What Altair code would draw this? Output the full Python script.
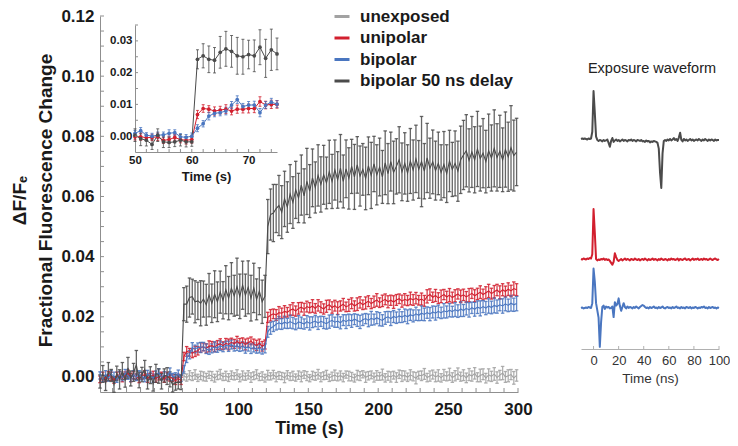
import altair as alt
import pandas as pd

FONT = "Liberation Sans"
INK = "#1a1a1a"
AXIS_GRAY = "#8f8f8f"

SERIES = ["unexposed", "unipolar", "bipolar", "bipolar 50 ns delay"]
COLORS = ["#a2a2a2", "#d21f2e", "#4a76c0", "#4b4b4b"]

# ---------------- main panel (values and errors in units of 1e-4) ----------------
TIME_MAIN = list(range(1, 300, 2))
TIME_UNEXPOSED = list(range(61, 300, 2))

UNEXPOSED = [
    4, -2, 6, 1, 8, -3, 5, 2, -1, 7,
    3, -4, 5, 9, 0, 4, -2, 6, 2, 8,
    -3, 5, 1, 7, -2, 4, 9, 0, 3, -4,
    6, 2, 8, -1, 5, 3, -3, 7, 1, 4,
    -2, 6, 0, 8, 3, -4, 5, 2, 9, -1,
    4, 7, -3, 2, 6, 0, 5, -2, 8, 3,
    1, -4, 6, 3, 9, -1, 4, 7, -2, 5,
    2, 8, -3, 4, 0, 6, -2, 9, 3, 5,
    -1, 7, 2, -4, 6, 4, 10, -2, 3, 8,
    0, 5, -3, 7, 2, 9, -2, 4, 11, 1,
    6, -3, 8, 3, 12, -1, 5, 9, -4, 7,
    2, 10, -2, 6, 13, 0, 4, 8, -3, 5,
]
UNEXPOSED_ERR = [
    14, 12, 15, 13, 16, 12, 14, 15, 13, 12,
    15, 13, 14, 16, 12, 15, 13, 14, 12, 16,
    13, 15, 12, 14, 16, 13, 15, 12, 14, 13,
    16, 12, 14, 15, 13, 12, 16, 14, 13, 15,
    12, 14, 16, 13, 15, 12, 14, 13, 16, 15,
    13, 15, 12, 14, 17, 13, 15, 14, 12, 16,
    14, 13, 16, 15, 12, 17, 14, 13, 15, 16,
    13, 18, 14, 15, 17, 13, 16, 14, 18, 15,
    14, 17, 15, 19, 13, 16, 18, 14, 17, 15,
    16, 19, 14, 18, 15, 20, 16, 17, 19, 15,
    18, 16, 20, 17, 19, 15, 21, 18, 16, 20,
    17, 21, 19, 16, 22, 18, 20, 17, 21, 19,
]

UNIPOLAR = [
    -8, 3, -5, 6, 2, -10, 4, 8, -3, 5,
    12, -2, 6, 0, -6, 3, 9, -4, 2, 7,
    -5, 1, 4, -8, 3, -2, -4, -13, -4, -13,
    68, 85, 82, 79, 85, 87, 98, 100, 95, 102,
    104, 100, 106, 110, 104, 112, 108, 115, 110, 118,
    112, 116, 108, 114, 120, 110, 105, 112, 102, 108,
    198, 205, 210, 206, 214, 212, 218, 215, 222, 226,
    219, 228, 232, 225, 234, 230, 236, 228, 238, 232,
    226, 235, 240, 231, 237, 229, 236, 242, 233, 238,
    245, 236, 242, 248, 240, 246, 252, 244, 250, 256,
    247, 253, 258, 250, 255, 249, 256, 260, 252, 258,
    254, 261, 256, 262, 255, 259, 253, 268, 274, 265,
    271, 262, 268, 274, 266, 272, 264, 270, 276, 268,
    273, 266, 272, 278, 270, 276, 282, 274, 280, 286,
    277, 283, 289, 281, 290, 284, 292, 286, 294, 290,
]
UNIPOLAR_ERR = [
    11, 13, 10, 12, 14, 11, 12, 10, 13, 12,
    11, 14, 12, 10, 13, 11, 12, 14, 10, 12,
    13, 11, 12, 10, 13, 12, 11, 12, 13, 12,
    14, 16, 13, 15, 17, 14, 16, 13, 15, 18,
    14, 16, 15, 17, 13, 16, 18, 14, 15, 17,
    16, 14, 18, 15, 13, 16, 17, 14, 16, 15,
    17, 19, 16, 18, 20, 17, 19, 16, 18, 21,
    17, 19, 16, 20, 18, 17, 21, 16, 19, 18,
    17, 20, 16, 19, 18, 21, 17, 19, 16, 20,
    18, 17, 21, 19, 16, 20, 18, 17, 19, 21,
    16, 19, 18, 20, 17, 21, 18, 16, 20, 19,
    17, 21, 18, 19, 16, 20, 18, 22, 19, 17,
    20, 18, 21, 17, 19, 22, 18, 20, 17, 21,
    19, 18, 22, 17, 20, 19, 21, 18, 20, 22,
    18, 21, 19, 22, 20, 18, 21, 19, 22, 20,
]

BIPOLAR = [
    5, -6, 8, -3, 10, 2, -8, 6, -2, 12,
    4, -5, 7, -1, 9, 3, -6, 10, 5, -4,
    8, 14, 0, 6, 2, 17, 0, 4, 11, -4,
    25, 63, 74, 98, 93, 98, 98, 101, 94, 88,
    95, 100, 96, 104, 99, 106, 102, 108, 100, 104,
    98, 102, 96, 100, 94, 98, 92, 96, 90, 95,
    150, 162, 168, 175, 180, 176, 182, 178, 184, 179,
    175, 183, 180, 176, 184, 178, 182, 186, 179, 185,
    181, 177, 184, 188, 182, 186, 180, 189, 184, 190,
    186, 192, 188, 183, 190, 194, 188, 195, 191, 197,
    192, 188, 196, 200, 194, 201, 197, 203, 199, 205,
    200, 207, 203, 210, 205, 212, 208, 214, 209, 216,
    212, 218, 213, 220, 216, 222, 217, 224, 219, 226,
    221, 228, 223, 230, 225, 232, 228, 234, 229, 236,
    231, 238, 234, 240, 236, 243, 238, 245, 240, 244,
]
BIPOLAR_ERR = [
    12, 10, 13, 11, 12, 14, 10, 12, 11, 13,
    12, 10, 14, 11, 12, 13, 10, 12, 11, 14,
    12, 13, 10, 12, 11, 13, 12, 10, 12, 11,
    13, 15, 14, 16, 13, 15, 17, 14, 16, 13,
    15, 17, 14, 16, 15, 13, 17, 15, 14, 16,
    13, 15, 17, 14, 16, 15, 13, 16, 14, 15,
    18, 20, 17, 19, 21, 18, 20, 17, 22, 19,
    18, 21, 19, 17, 20, 22, 18, 19, 21, 17,
    20, 18, 22, 19, 17, 21, 20, 18, 23, 19,
    21, 18, 20, 22, 19, 17, 21, 23, 18, 20,
    22, 19, 21, 18, 23, 20, 19, 22, 18, 21,
    23, 19, 20, 22, 18, 24, 21, 19, 22, 20,
    23, 21, 19, 24, 20, 22, 18, 23, 21, 25,
    20, 22, 24, 19, 23, 21, 25, 20, 22, 24,
    21, 25, 22, 20, 24, 23, 21, 26, 22, 24,
]

DELAYED = [
    -15, 10, -20, 18, 5, -25, 12, -8, 20, -12,
    30, -5, 15, 40, -10, 8, 25, -18, 6, -22,
    12, 3, -14, 5, 3, -8, -26, -18, -18, -18,
    242, 242, 264, 267, 250, 253, 245, 259, 240, 272,
    245, 275, 250, 282, 255, 290, 262, 295, 270, 300,
    268, 305, 272, 298, 262, 296, 258, 285, 250, 268,
    500, 540, 545, 560, 570, 548, 592, 565, 608, 580,
    622, 595, 638, 602, 650, 618, 662, 630, 670, 640,
    672, 645, 682, 650, 688, 655, 694, 650, 692, 660,
    700, 665, 705, 668, 690, 660, 702, 670, 708, 672,
    698, 665, 712, 676, 716, 680, 700, 722, 682, 710,
    678, 718, 688, 725, 690, 716, 684, 728, 694, 715,
    686, 710, 680, 706, 676, 718, 690, 710, 684, 722,
    738, 752, 720, 748, 722, 758, 726, 744, 716, 752,
    728, 760, 730, 750, 722, 756, 732, 762, 736, 748,
]
DELAYED_ERR = [
    22, 28, 25, 30, 20, 26, 24, 32, 28, 22,
    35, 25, 30, 48, 26, 24, 30, 22, 28, 25,
    30, 24, 26, 22, 28, 25, 24, 26, 22, 24,
    55, 60, 65, 58, 70, 62, 75, 60, 68, 72,
    64, 78, 66, 70, 62, 80, 72, 85, 68, 95,
    74, 80, 70, 88, 76, 82, 68, 78, 72, 70,
    90, 85, 95, 80, 100, 88, 92, 84, 98, 86,
    95, 82, 100, 90, 110, 88, 96, 85, 102, 92,
    98, 86, 105, 90, 100, 94, 112, 88, 96, 102,
    90, 108, 94, 100, 86, 104, 96, 110, 92, 100,
    96, 88, 106, 100, 98, 104, 92, 110, 96, 102,
    94, 108, 100, 112, 96, 150, 92, 115, 100, 106,
    98, 104, 92, 110, 96, 102, 90, 108, 100, 112,
    115, 120, 105, 118, 110, 125, 108, 115, 104, 122,
    110, 128, 112, 120, 106, 125, 115, 140, 118, 112,
]

# ---------------- inset (50-75 s, units of 1e-4) ----------------
TIME_INSET = list(range(50, 76))
INSET_UNIPOLAR = [-2, -2, -5, -4, -2, -13, -11, -4, -11, -13, -11, 68, 87, 85, 79, 82, 85, 79, 85, 85, 87, 87, 109, 98, 100, 100]
INSET_UNIPOLAR_ERR = [10, 11, 9, 10, 12, 10, 11, 9, 10, 12, 11, 13, 12, 11, 13, 12, 14, 12, 13, 12, 14, 13, 15, 12, 13, 12]
INSET_BIPOLAR = [9, 17, 3, 0, 3, 4, 9, 11, -2, -4, 0, 25, 39, 63, 72, 74, 79, 98, 115, 93, 98, 98, 74, 98, 107, 101]
INSET_BIPOLAR_ERR = [9, 10, 8, 9, 10, 9, 11, 9, 10, 9, 10, 11, 10, 12, 11, 10, 12, 11, 12, 10, 11, 12, 13, 11, 12, 11]
INSET_DELAYED = [3, -8, -13, -26, 3, -18, -20, -18, -13, -18, -18, 242, 253, 242, 239, 264, 275, 267, 253, 250, 257, 253, 280, 245, 272, 259]
INSET_DELAYED_ERR = [20, 22, 18, 16, 20, 18, 16, 15, 18, 16, 14, 30, 38, 42, 40, 50, 55, 50, 58, 55, 45, 50, 55, 60, 65, 50]

# ---------------- exposure waveforms (ns, amplitude x0.01) ----------------
WAVE_TIME = list(range(-10, 101))
WAVE_DELAYED = [
    0, 1, 0, 1, 0, -1, 1, 0, 1, 15,
    100, 55, 5, -2, -4, -2, -3, -5, -2, -4,
    -3, -1, -8, -16, -4, 2, -6, -3, -1, -4,
    -2, -5, -3, -1, -4, -2, -3, -5, -2, -3,
    -1, -4, -2, -3, -5, -2, -3, -4, -2, -5,
    -4, -6, -3, -5, -4, -7, -5, -6, -4, -5,
    -6, -8, -20, -70, -102, -30, -4, -2, -4, -1,
    -3, 0, -3, -1, 2, -2, 0, -4, 3, 13,
    -2, -5, 0, -3, -1, -4, -2, 0, -3, -1,
    -4, -2, -1, -3, 0, -2, -4, -1, -3, 0,
    -2, -4, -1, -3, -1, -2, -4, -1, -3, -2, -2,
]
WAVE_UNIPOLAR = [
    0, -1, 1, 0, -1, 1, 0, 2, 1, 10,
    104, 55, 0, -3, -1, -2, 0, -1, 1, -2,
    0, -2, -1, -4, -8, -12, -6, 12, 4, -2,
    -4, -2, 0, -3, -1, 1, -2, 0, -1, -3,
    0, -1, -2, 1, -1, -2, 0, -3, -1, 0,
    -2, 1, -1, -3, 0, -2, -1, 1, -2, 0,
    -1, -3, 0, -2, 1, -1, -2, 0, -1, -3,
    0, -2, 1, -1, 0, -2, -1, 1, -3, 0,
    -1, -2, 0, 1, -2, -1, 0, -3, -1, 1,
    -2, 0, -1, 1, -2, -1, 0, -2, 1, -1,
    0, -2, -1, 1, -1, -2, 0, 1, -1, -2, 0,
]
WAVE_BIPOLAR = [
    0, 1, -1, 0, 1, 0, 2, 1, 0, 10,
    82, 55, 10, -5, -20, -81, -30, 2, 5, -2,
    3, 1, 2, -1, 0, 3, -19, 12, 5, 8,
    20, 4, -6, 2, 10, 2, -1, 3, 0, 2,
    1, -1, 2, 0, 3, 1, -1, 2, 4, 6,
    5, 2, 0, 1, -1, 2, 0, 1, 3, 0,
    1, -1, 2, 0, 1, 3, 0, -1, 1, 2,
    0, 1, -1, 2, 0, 1, 3, 0, 1, -1,
    2, 0, 1, -1, 2, 1, 0, 2, -1, 1,
    0, 2, 1, -1, 1, 0, 2, 1, 3, 0,
    1, -1, 2, 0, 1, 2, 0, 1, -1, 1, 0,
]
WAVE_OFFSET = {"bipolar 50 ns delay": 0.0, "unipolar": -2.5, "bipolar": -3.52}
WAVE_TITLE = "Exposure waveform"

MAIN_Y_LABELS = [0.0, 0.02, 0.04, 0.06, 0.08, 0.10, 0.12]
MAIN_X_LABELS = [50, 100, 150, 200, 250, 300]
MAIN_Y_TICKS = [i * 0.005 for i in range(25)]
MAIN_X_TICKS = list(range(10, 301, 10))
INSET_Y_LABELS = [0.0, 0.01, 0.02, 0.03]
INSET_X_LABELS = [50, 60, 70]
INSET_Y_TICKS = [i * 0.005 for i in range(8)]
INSET_X_TICKS = list(range(52, 76, 2))
WAVE_X_LABELS = [0, 20, 40, 60, 80, 100]

U = 1e-4


def series_frame(times, vals, errs, name):
    n = min(len(times), len(vals), len(errs))
    return pd.DataFrame({
        "t": times[:n],
        "v": [v * U for v in vals[:n]],
        "lo": [(v - e) * U for v, e in zip(vals[:n], errs[:n])],
        "hi": [(v + e) * U for v, e in zip(vals[:n], errs[:n])],
        "series": [name] * n,
    })


main_df = pd.concat([
    series_frame(TIME_UNEXPOSED, UNEXPOSED, UNEXPOSED_ERR, SERIES[0]),
    series_frame(TIME_MAIN, UNIPOLAR, UNIPOLAR_ERR, SERIES[1]),
    series_frame(TIME_MAIN, BIPOLAR, BIPOLAR_ERR, SERIES[2]),
    series_frame(TIME_MAIN, DELAYED, DELAYED_ERR, SERIES[3]),
], ignore_index=True)

inset_df = pd.concat([
    series_frame(TIME_INSET, INSET_UNIPOLAR, INSET_UNIPOLAR_ERR, SERIES[1]),
    series_frame(TIME_INSET, INSET_BIPOLAR, INSET_BIPOLAR_ERR, SERIES[2]),
    series_frame(TIME_INSET, INSET_DELAYED, INSET_DELAYED_ERR, SERIES[3]),
], ignore_index=True)

wave_rows = []
for name, vals in [(SERIES[3], WAVE_DELAYED), (SERIES[1], WAVE_UNIPOLAR), (SERIES[2], WAVE_BIPOLAR)]:
    for t, v in zip(WAVE_TIME, vals):
        wave_rows.append({"t": t, "y": v / 100 + WAVE_OFFSET[name], "series": name})
wave_df = pd.DataFrame(wave_rows)

LEGEND = alt.Legend(
    orient="none", legendX=233, legendY=-8.5, title=None,
    symbolType="stroke", symbolSize=225, symbolStrokeWidth=3, symbolOpacity=1,
    labelFont=FONT, labelFontSize=17, labelFontWeight="bold", labelColor=INK,
    labelOffset=9, rowPadding=4.5, padding=0,
)
COLOR = alt.Color("series:N", scale=alt.Scale(domain=SERIES, range=COLORS), legend=LEGEND)

# ---------- main ----------
SX = alt.Scale(domain=[1, 300], nice=False, zero=False)
SY = alt.Scale(domain=[-0.005, 0.12], nice=False, zero=False)
AX_X = alt.Axis(
    values=MAIN_X_LABELS, format="d", ticks=False, grid=False,
    domainColor=AXIS_GRAY, labelFont=FONT, labelFontSize=17, labelFontWeight="bold",
    labelColor=INK, labelPadding=9, labelFlush=False,
    title="Time (s)", titleFont=FONT, titleFontSize=18, titleFontWeight="bold",
    titleColor=INK, titleBaseline="alphabetic", titleY=41,
)
AX_Y = alt.Axis(
    values=MAIN_Y_LABELS, format=".2f", ticks=False, grid=False,
    domainColor=AXIS_GRAY, labelFont=FONT, labelFontSize=17, labelFontWeight="bold",
    labelColor=INK, labelPadding=6, labelFlush=False,
    title=["\u0394F/F\u2091", "Fractional Fluorescence Change"],
    titleFont=FONT, titleFontSize=19, titleFontWeight="bold", titleColor=INK,
    titleAngle=270, titleAlign="center", titleBaseline="alphabetic",
    titleX=-75, titleY=184, titleLineHeight=26,
)

main_err = alt.Chart(main_df).mark_errorbar(ticks=True, size=3.5, thickness=1.3, opacity=0.85).encode(
    x=alt.X("t:Q", scale=SX, axis=AX_X),
    y=alt.Y("lo:Q", scale=SY, axis=AX_Y),
    y2="hi:Q",
    color=COLOR,
)
main_line = alt.Chart(main_df).mark_line(strokeWidth=1.1).encode(
    x=alt.X("t:Q", scale=SX, axis=AX_X),
    y=alt.Y("v:Q", scale=SY, axis=AX_Y),
    color=COLOR,
)
main_yt = alt.Chart(pd.DataFrame({"tick": MAIN_Y_TICKS})).mark_rule(color=AXIS_GRAY).encode(
    y=alt.Y("tick:Q", scale=SY, axis=AX_Y), x=alt.value(0), x2=alt.value(4),
)
main_xt = alt.Chart(pd.DataFrame({"tick": MAIN_X_TICKS})).mark_rule(color=AXIS_GRAY).encode(
    x=alt.X("tick:Q", scale=SX, axis=AX_X), y=alt.value(376), y2=alt.value(372),
)
main = alt.layer(main_err, main_line, main_yt, main_xt)

# ---------- inset ----------
SXI = alt.Scale(domain=[50, 75], range=[35, 177], nice=False, zero=False)
SYI = alt.Scale(domain=[-0.005, 0.035], range=[136, 9], nice=False, zero=False)
AX_IX = alt.Axis(
    orient="bottom", offset=-240, values=INSET_X_LABELS, format="d", ticks=False, grid=False,
    domainColor=AXIS_GRAY, labelFont=FONT, labelFontSize=11.5, labelFontWeight="bold",
    labelColor=INK, labelPadding=2, labelFlush=False,
    title="Time (s)", titleFont=FONT, titleFontSize=13, titleFontWeight="bold",
    titleColor=INK, titleBaseline="alphabetic", titleY=28.5,
)
AX_IY = alt.Axis(
    orient="left", offset=-35, values=INSET_Y_LABELS, format=".2f", ticks=False, grid=False,
    domainColor=AXIS_GRAY, labelFont=FONT, labelFontSize=11.5, labelFontWeight="bold",
    labelColor=INK, labelPadding=3, labelFlush=False, title=None,
)
inset_err = alt.Chart(inset_df).mark_errorbar(ticks=True, size=3, thickness=1, opacity=0.8).encode(
    x=alt.X("t:Q", scale=SXI, axis=AX_IX),
    y=alt.Y("lo:Q", scale=SYI, axis=AX_IY),
    y2="hi:Q",
    color=COLOR,
)
inset_line = alt.Chart(inset_df).mark_line(strokeWidth=1).encode(
    x=alt.X("t:Q", scale=SXI, axis=AX_IX),
    y=alt.Y("v:Q", scale=SYI, axis=AX_IY),
    color=COLOR,
)
inset_pts = alt.Chart(inset_df).mark_point(filled=True, size=14, opacity=1).encode(
    x=alt.X("t:Q", scale=SXI, axis=AX_IX),
    y=alt.Y("v:Q", scale=SYI, axis=AX_IY),
    color=COLOR,
)
inset_yt = alt.Chart(pd.DataFrame({"tick": INSET_Y_TICKS})).mark_rule(color=AXIS_GRAY).encode(
    y=alt.Y("tick:Q", scale=SYI, axis=AX_IY), x=alt.value(35), x2=alt.value(38),
)
inset_xt = alt.Chart(pd.DataFrame({"tick": INSET_X_TICKS})).mark_rule(color=AXIS_GRAY).encode(
    x=alt.X("tick:Q", scale=SXI, axis=AX_IX), y=alt.value(136), y2=alt.value(133),
)
inset = alt.layer(inset_err, inset_line, inset_pts, inset_yt, inset_xt)

# ---------- waveform panel ----------
SXW = alt.Scale(domain=[-10, 100], range=[481, 619], nice=False, zero=False)
SYW = alt.Scale(domain=[-4.5, 1.5], range=[339, 51], nice=False, zero=False)
AX_WX = alt.Axis(
    orient="bottom", offset=-43, values=WAVE_X_LABELS, format="d", ticks=False, grid=False,
    domainColor="#b0b0b0", labelFont=FONT, labelFontSize=13, labelFontWeight="normal",
    labelColor="#333333", labelPadding=5, labelFlush=False,
    title="Time (ns)", titleFont=FONT, titleFontSize=13.5, titleFontWeight="normal",
    titleColor="#333333", titleBaseline="alphabetic", titleY=33,
)
wave_line = alt.Chart(wave_df).mark_line(strokeWidth=2, strokeJoin="round").encode(
    x=alt.X("t:Q", scale=SXW, axis=AX_WX),
    y=alt.Y("y:Q", scale=SYW, axis=None),
    color=COLOR,
)
wave_xt = alt.Chart(pd.DataFrame({"tick": WAVE_X_LABELS})).mark_rule(color="#b0b0b0").encode(
    x=alt.X("tick:Q", scale=SXW, axis=AX_WX), y=alt.value(333), y2=alt.value(330),
)
wave_title = alt.Chart(pd.DataFrame({"label": [WAVE_TITLE]})).mark_text(
    font=FONT, fontSize=14.5, color="#222222", align="center", baseline="alphabetic",
).encode(x=alt.value(552), y=alt.value(57), text="label:N")
wave = alt.layer(wave_line, wave_xt, wave_title)

chart = (
    alt.layer(main, inset, wave)
    .resolve_scale(x="independent", y="independent")
    .properties(
        width=418, height=376,
        autosize=alt.AutoSizeParams(type="none"),
        padding={"left": 92, "top": 8, "right": 212, "bottom": 46},
    )
    .configure(font=FONT)
    .configure_view(stroke=None)
)

chart.save("out.html", embed_options={"renderer": "svg", "actions": False})
